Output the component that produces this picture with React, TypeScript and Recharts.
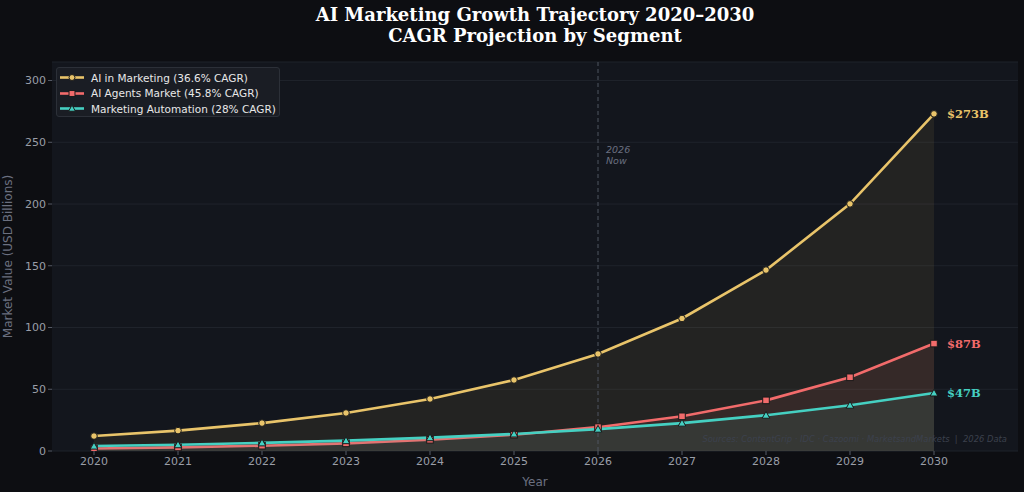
import React from 'react';
import { ComposedChart, Area, XAxis, YAxis, CartesianGrid, ReferenceLine, LabelList } from 'recharts';

const years = [2020, 2021, 2022, 2023, 2024, 2025, 2026, 2027, 2028, 2029, 2030];
const aiMarketing = [12.1, 16.5, 22.6, 30.8, 42.1, 57.5, 78.6, 107.3, 146.5, 200.1, 273];
const aiAgents = [2.0, 2.9, 4.3, 6.2, 9.1, 13.2, 19.3, 28.1, 41.0, 59.7, 87];
const mktAutomation = [4.0, 5.1, 6.6, 8.4, 10.8, 13.8, 17.7, 22.6, 29.0, 37.1, 47];
const yTicks = [0, 50, 100, 150, 200, 250, 300];
const endLabels = ['$273B', '$87B', '$47B'];
const seriesNames = ['AI in Marketing (36.6% CAGR)', 'AI Agents Market (45.8% CAGR)', 'Marketing Automation (28% CAGR)'];

const data = years.map((year, i) => ({
  year,
  mkt: aiMarketing[i],
  agents: aiAgents[i],
  auto: mktAutomation[i],
}));

const GOLD = '#E9C46A';
const RED = '#F26B6B';
const TEAL = '#45D0C2';
const EDGE = '#1a1a1a';
const SANS = '"DejaVu Sans", sans-serif';
const SERIF = '"DejaVu Serif", serif';

const Marker = ({ shape, cx, cy, color, size = 1 }: any) => {
  if (cx == null || cy == null) return null;
  if (shape === 'circle') return <circle cx={cx} cy={cy} r={3.3 * size} fill={color} stroke={EDGE} strokeWidth={1} />;
  if (shape === 'square') {
    const s = 3.3 * size;
    return <rect x={cx - s} y={cy - s} width={2 * s} height={2 * s} fill={color} stroke={EDGE} strokeWidth={1} />;
  }
  const s = 3.8 * size;
  return <polygon points={`${cx},${cy - s} ${cx - s},${cy + s * 0.8} ${cx + s},${cy + s * 0.8}`} fill={color} stroke={EDGE} strokeWidth={1} />;
};

const makeDot = (shape: string, color: string) => (props: any) => (
  <Marker key={`${shape}-${props.index}`} shape={shape} cx={props.cx} cy={props.cy} color={color} />
);

const makeEndLabel = (text: string, color: string) => (props: any) => {
  const { x, y, index } = props;
  if (index !== years.length - 1) return null;
  return (
    <text x={Number(x) + 13} y={Number(y) + 4.5} fill={color} fontFamily={SERIF} fontWeight="bold" fontSize={11.5}>
      {text}
    </text>
  );
};

const NowLabel = (props: any) => {
  const vb = props.viewBox || {};
  const x = (vb.x || 0) + 8;
  return (
    <text fill="#6b7080" fontFamily={SANS} fontStyle="italic" fontSize={9.5}>
      <tspan x={x} y={153}>2026</tspan>
      <tspan x={x} y={164}>Now</tspan>
    </text>
  );
};

export default function App() {
  const legendItems = [
    { name: seriesNames[0], color: GOLD, shape: 'circle' },
    { name: seriesNames[1], color: RED, shape: 'square' },
    { name: seriesNames[2], color: TEAL, shape: 'triangle' },
  ];
  return (
    <div style={{ position: 'absolute', left: 0, top: 0, width: 1024, height: 492, background: '#0d0e12', overflow: 'hidden' }}>
      <div style={{ position: 'absolute', left: 52, width: 966, top: 4, textAlign: 'center', color: '#ffffff', fontFamily: SERIF, fontWeight: 'bold', fontSize: 18, lineHeight: '21px' }}>
        <div>AI Marketing Growth Trajectory 2020–2030</div>
        <div>CAGR Projection by Segment</div>
      </div>
      <ComposedChart width={1024} height={492} data={data} margin={{ top: 62, right: 6, bottom: 0, left: 0 }} style={{ position: 'absolute', left: 0, top: 0 }}>
        <CartesianGrid vertical={false} stroke="#1f232b" strokeWidth={1} fill="#13161d" />
        <XAxis
          dataKey="year"
          type="number"
          domain={[2019.5, 2031]}
          ticks={years}
          allowDataOverflow
          height={41}
          axisLine={false}
          tickLine={{ stroke: '#555a66' }}
          tickSize={4}
          tick={{ fill: '#9a9ea8', fontSize: 11, fontFamily: SANS }}
          label={{ value: 'Year', position: 'insideBottom', offset: 6, fill: '#6b7080', fontSize: 12, fontFamily: SANS }}
        />
        <YAxis
          type="number"
          domain={[0, 315]}
          ticks={yTicks}
          allowDataOverflow
          width={52}
          axisLine={false}
          tickLine={{ stroke: '#555a66' }}
          tickSize={4}
          tick={{ fill: '#9a9ea8', fontSize: 11, fontFamily: SANS }}
          label={{ value: 'Market Value (USD Billions)', angle: -90, position: 'insideLeft', offset: 8, fill: '#6b7080', fontSize: 12, fontFamily: SANS, style: { textAnchor: 'middle' } }}
        />
        <ReferenceLine x={2026} stroke="#4f5460" strokeDasharray="4 3" strokeWidth={1} label={<NowLabel />} />
        <Area type="linear" dataKey="mkt" stroke={GOLD} strokeWidth={2.6} fill={GOLD} fillOpacity={0.08} isAnimationActive={false} dot={makeDot('circle', GOLD)} activeDot={false}>
          <LabelList dataKey="mkt" content={makeEndLabel(endLabels[0], GOLD)} />
        </Area>
        <Area type="linear" dataKey="agents" stroke={RED} strokeWidth={2.6} fill={RED} fillOpacity={0.09} isAnimationActive={false} dot={makeDot('square', RED)} activeDot={false}>
          <LabelList dataKey="agents" content={makeEndLabel(endLabels[1], RED)} />
        </Area>
        <Area type="linear" dataKey="auto" stroke={TEAL} strokeWidth={2.6} fill={TEAL} fillOpacity={0.09} isAnimationActive={false} dot={makeDot('triangle', TEAL)} activeDot={false}>
          <LabelList dataKey="auto" content={makeEndLabel(endLabels[2], TEAL)} />
        </Area>
      </ComposedChart>
      <div style={{ position: 'absolute', right: 17, top: 434, fontFamily: SANS, fontStyle: 'italic', fontSize: 8.4, color: '#3c414d', whiteSpace: 'pre' }}>
        {'Sources: ContentGrip · IDC · Cazoomi · MarketsandMarkets  |  2026 Data'}
      </div>
      <div style={{ position: 'absolute', left: 56, top: 67, width: 222, height: 48, background: '#1a1d24', border: '1px solid #2c3038', borderRadius: 3 }}>
        {legendItems.map((it, i) => (
          <div key={i} style={{ position: 'absolute', left: 0, top: 2 + i * 15.5, height: 15, display: 'flex', alignItems: 'center' }}>
            <svg width={34} height={15} style={{ display: 'block' }}>
              <line x1={3} y1={7.5} x2={27} y2={7.5} stroke={it.color} strokeWidth={2.6} />
              <Marker shape={it.shape} cx={15} cy={7.5} color={it.color} size={0.9} />
            </svg>
            <span style={{ fontFamily: SANS, fontSize: 10.5, color: '#e8e8e8', whiteSpace: 'pre' }}>{it.name}</span>
          </div>
        ))}
      </div>
    </div>
  );
}
